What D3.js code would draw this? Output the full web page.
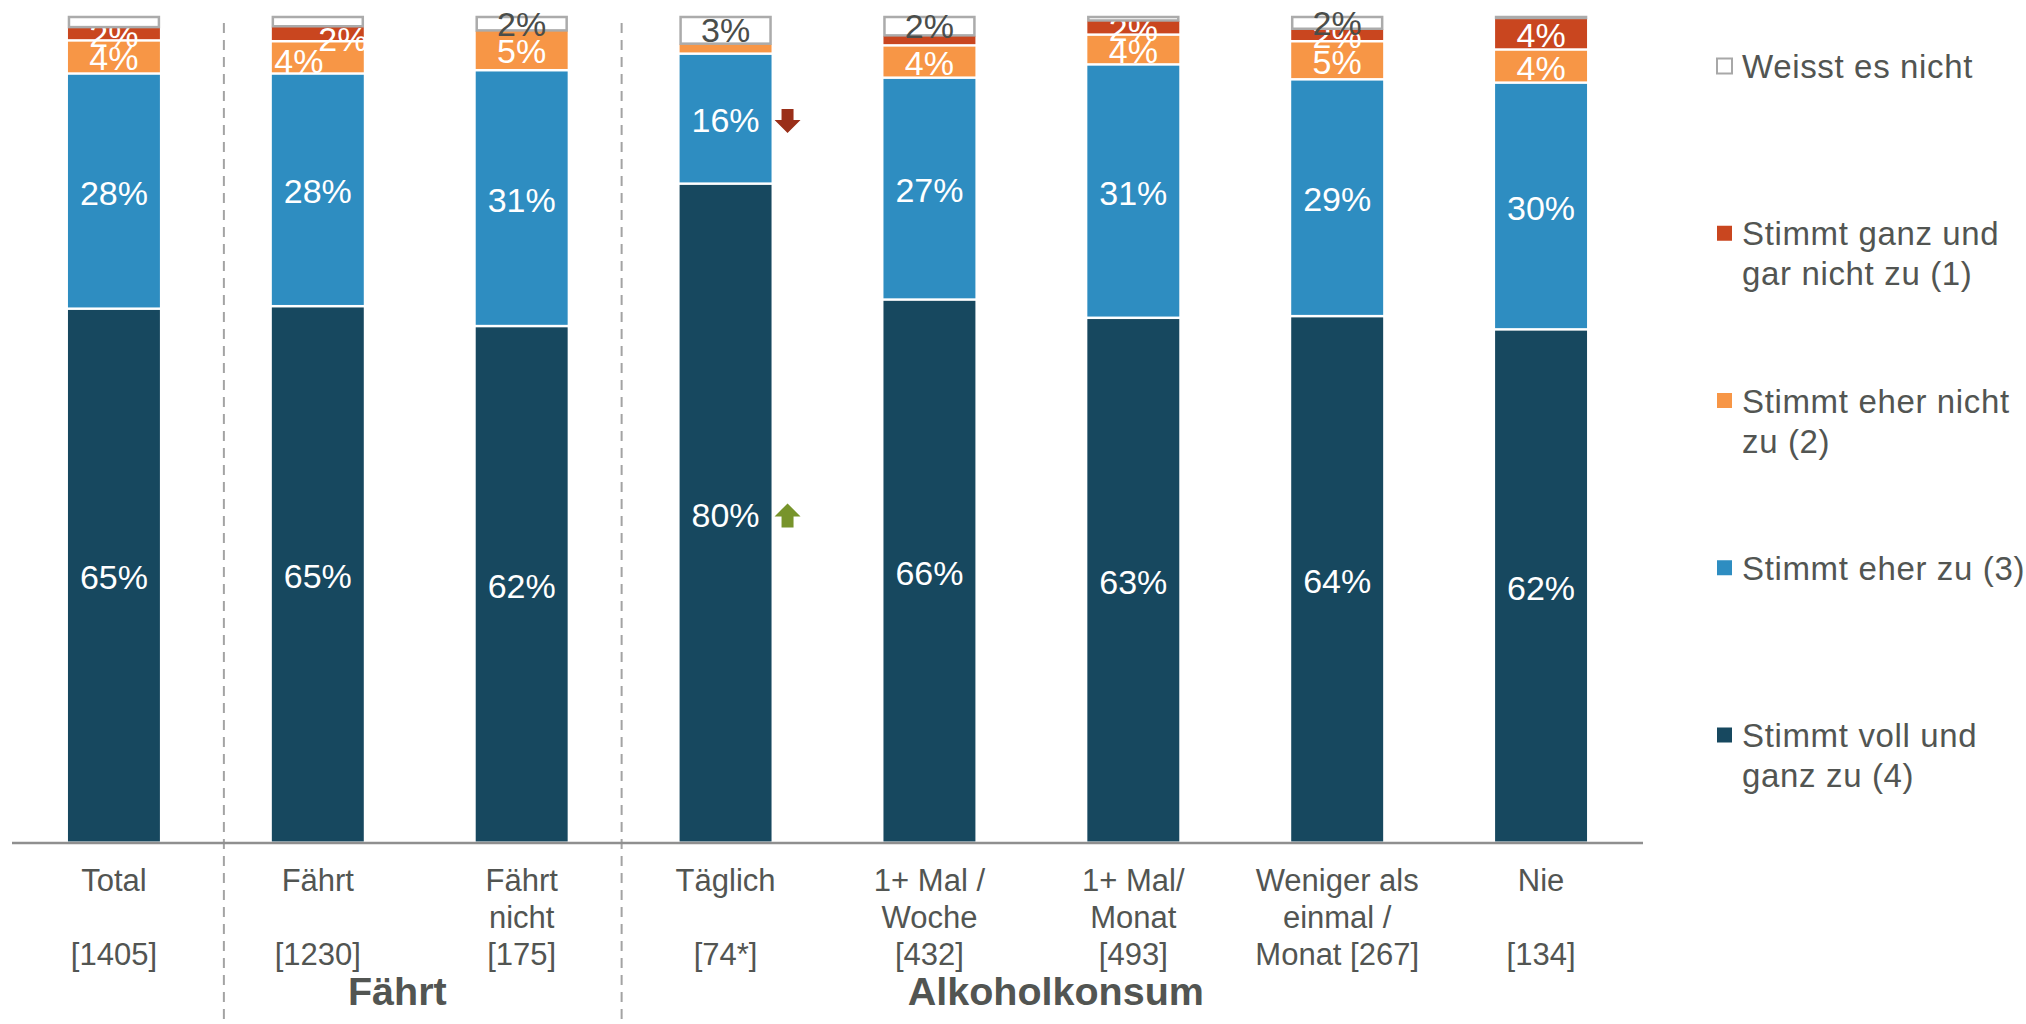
<!DOCTYPE html>
<html>
<head>
<meta charset="utf-8">
<script src="https://cdn.jsdelivr.net/npm/d3@7"></script>
<style>
  html, body { margin: 0; padding: 0; background: #fff; }
  svg { display: block; font-family: "Liberation Sans", Arial, sans-serif; }
</style>
</head>
<body>
<svg id="chart" width="2026" height="1024"></svg>
<script>
// ---------- data ----------
const categories = ["Total", "Fährt", "Fährt nicht", "Täglich", "1+ Mal / Woche", "1+ Mal/ Monat", "Weniger als einmal / Monat", "Nie"];
const tickLines = [
  ["Total", "", "[1405]"],
  ["Fährt", "", "[1230]"],
  ["Fährt", "nicht", "[175]"],
  ["Täglich", "", "[74*]"],
  ["1+ Mal /", "Woche", "[432]"],
  ["1+ Mal/", "Monat", "[493]"],
  ["Weniger als", "einmal /", "Monat [267]"],
  ["Nie", "", "[134]"]
];
const seriesNames = ["Stimmt voll und ganz zu (4)", "Stimmt eher zu (3)", "Stimmt eher nicht zu (2)", "Stimmt ganz und gar nicht zu (1)", "Weisst es nicht"];
const vollUndGanz = [64.5, 64.8, 62.4, 79.6, 65.6, 63.4, 63.6, 62.0];
const eherZu      = [28.4, 28.1, 30.9, 15.7, 26.8, 30.6, 28.6, 29.8];
const eherNicht   = [4.0, 3.9, 4.9, 1.3, 3.9, 3.6, 4.6, 4.0];
const garNicht    = [1.7, 1.9, 0.0, 0.0, 1.3, 1.8, 1.6, 3.9];
const weissNicht  = [1.4, 1.3, 1.8, 3.4, 2.4, 0.6, 1.6, 0.3];
const groups = [
  { name: "Fährt", from: "Fährt", to: "Fährt nicht" },
  { name: "Alkoholkonsum", from: "Täglich", to: "Nie" }
];
const sigMarks = [
  { cat: "Täglich", series: "Stimmt eher zu (3)", dir: "down" },
  { cat: "Täglich", series: "Stimmt voll und ganz zu (4)", dir: "up" }
];
const legendLines = [
  ["Weisst es nicht"],
  ["Stimmt ganz und", "gar nicht zu (1)"],
  ["Stimmt eher nicht", "zu (2)"],
  ["Stimmt eher zu (3)"],
  ["Stimmt voll und", "ganz zu (4)"]
];

// ---------- style ----------
const colors = ["#17485F", "#2E8DC1", "#F79646", "#C9461F", "#FFFFFF"];
const textGray = "#525552";
const seriesArrays = [vollUndGanz, eherZu, eherNicht, garNicht, weissNicht];
const labelNudge = { "Fährt|2": [-19, 2], "Fährt|3": [25, 4] };

const table = categories.map((c, i) => {
  const row = { cat: c };
  seriesNames.forEach((s, k) => row[s] = seriesArrays[k][i]);
  return row;
});

const svg = d3.select("#chart");
const x = d3.scaleBand().domain(categories).range([12, 1643]).paddingInner(0.549).paddingOuter(0.2745);
const y = d3.scaleLinear().domain([0, 100]).range([844, 16]);
const stacked = d3.stack().keys(seriesNames)(table);

// separators
const seps = [];
groups.forEach(g => {
  const i = categories.indexOf(g.from);
  if (i > 0) seps.push((x(categories[i - 1]) + x(categories[i]) + x.bandwidth()) / 2);
});
svg.selectAll("line.sep").data(seps).join("line")
  .attr("class", "sep")
  .attr("x1", (d, i) => d + (i === 0 ? 8 : -2)).attr("x2", (d, i) => d + (i === 0 ? 8 : -2))
  .attr("y1", 23).attr("y2", 1024)
  .attr("stroke", "#a3a3a3").attr("stroke-width", 2).attr("stroke-dasharray", "10,7");

// bars + labels, series by series
stacked.forEach((layer, k) => {
  const g = svg.append("g");
  const isWhite = k === 4;
  const key = seriesNames[k];
  g.selectAll("rect").data(layer).join("rect")
    .attr("x", d => x(d.data.cat) + (isWhite ? 1 : 0))
    .attr("width", x.bandwidth() - (isWhite ? 2 : 0))
    .attr("y", d => y(d[1]) + (isWhite ? 1 : 0))
    .attr("height", d => {
      const h = y(d[0]) - y(d[1]);
      if (d.data[key] <= 0) return 0;
      return isWhite ? Math.max(h - 1.5, 1) : Math.max(h - 2.5, 0);
    })
    .attr("fill", colors[k])
    .attr("stroke", isWhite ? "#ABABAB" : "none")
    .attr("stroke-width", isWhite ? 2.5 : 0);

  g.selectAll("text").data(layer.filter(d => d.data[key] >= 1.5)).join("text")
    .attr("x", d => {
      const n = labelNudge[d.data.cat + "|" + k];
      return x(d.data.cat) + x.bandwidth() / 2 + (n ? n[0] : 0);
    })
    .attr("y", d => {
      const n = labelNudge[d.data.cat + "|" + k];
      return (y(d[0]) + y(d[1])) / 2 + (n ? n[1] : 0);
    })
    .attr("dy", "0.36em")
    .attr("text-anchor", "middle")
    .attr("font-size", 34)
    .attr("fill", isWhite ? "#4a4d4a" : "#ffffff")
    .text(d => Math.round(d.data[key]) + "%");
});

// significance arrows
sigMarks.forEach(m => {
  const k = seriesNames.indexOf(m.series);
  const d = stacked[k].find(e => e.data.cat === m.cat);
  const cx = x(m.cat) + x.bandwidth() + 16;
  const cy = (y(d[0]) + y(d[1])) / 2 + 1;
  const w = 13, sw = 6, h = 12;
  let pts;
  if (m.dir === "down") {
    pts = [[cx - sw, cy - h], [cx + sw, cy - h], [cx + sw, cy - 1], [cx + w, cy - 1], [cx, cy + h], [cx - w, cy - 1], [cx - sw, cy - 1]];
  } else {
    pts = [[cx - sw, cy + h], [cx + sw, cy + h], [cx + sw, cy + 1], [cx + w, cy + 1], [cx, cy - h], [cx - w, cy + 1], [cx - sw, cy + 1]];
  }
  svg.append("path").attr("d", d3.line()(pts) + "Z")
    .attr("fill", m.dir === "down" ? "#9A2F19" : "#77942B");
});

// x axis line
svg.append("line").attr("x1", 12).attr("x2", 1643).attr("y1", 843).attr("y2", 843)
  .attr("stroke", "#8f8f8f").attr("stroke-width", 2.5);

// tick labels
const tl = svg.append("g");
categories.forEach((c, i) => {
  tickLines[i].forEach((line, j) => {
    if (!line) return;
    tl.append("text")
      .attr("x", x(c) + x.bandwidth() / 2)
      .attr("y", 891 + j * 36.8)
      .attr("text-anchor", "middle")
      .attr("font-size", 31)
      .attr("fill", textGray)
      .text(line);
  });
});

// group labels
const groupFrac = [0.39, 0.405];
groups.forEach((g, i) => {
  const a = x(g.from) + x.bandwidth() / 2, b = x(g.to) + x.bandwidth() / 2;
  svg.append("text")
    .attr("x", a + (b - a) * groupFrac[i])
    .attr("y", 1005)
    .attr("text-anchor", "middle")
    .attr("font-size", 39.5).attr("font-weight", "bold")
    .attr("fill", textGray)
    .text(g.name);
});

// legend (top to bottom: reverse stack order)
const legendY = d3.scalePoint().domain(d3.range(5)).range([66, 735]);
legendLines.forEach((lines, i) => {
  const k = 4 - i;
  const cy = legendY(i);
  svg.append("rect")
    .attr("x", 1717).attr("y", cy - 7.5).attr("width", 15).attr("height", 15)
    .attr("fill", colors[k])
    .attr("stroke", k === 4 ? "#A8A8A8" : "none").attr("stroke-width", k === 4 ? 2 : 0);
  lines.forEach((ln, j) => {
    svg.append("text")
      .attr("x", 1742).attr("y", cy + 12 + j * 40)
      .attr("font-size", 33)
      .attr("letter-spacing", 0.65)
      .attr("fill", textGray)
      .text(ln);
  });
});
</script>
</body>
</html>
